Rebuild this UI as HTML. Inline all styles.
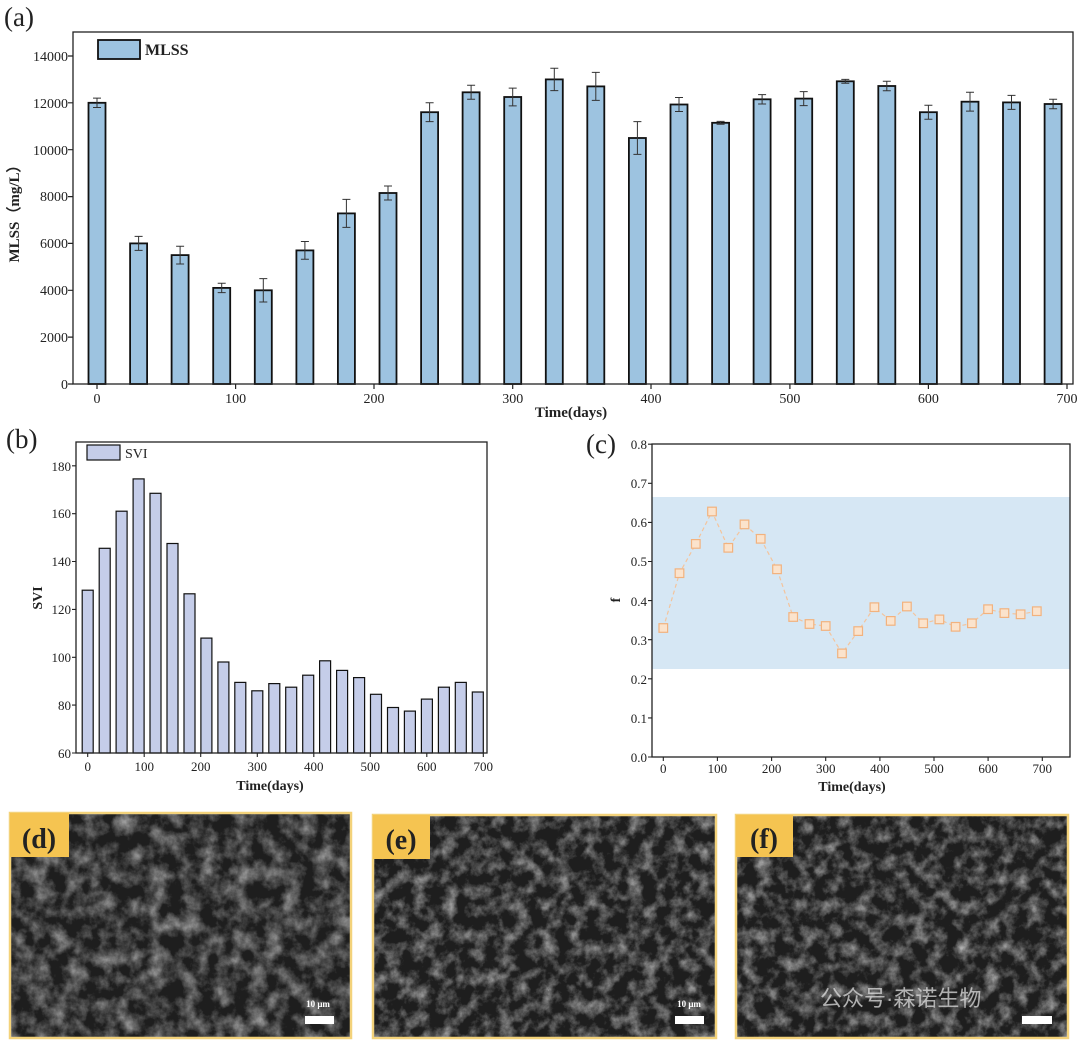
<!DOCTYPE html>
<html><head><meta charset="utf-8"><style>
body{margin:0;background:#fff}
svg{display:block}
text{font-family:"Liberation Serif",serif;fill:#222}
.t{font-size:14px}
.b{font-weight:bold}
</style></head><body>
<svg width="1080" height="1044" viewBox="0 0 1080 1044" xmlns="http://www.w3.org/2000/svg">
<defs>
<filter id="sem" x="0" y="0" width="100%" height="100%">
<feTurbulence type="fractalNoise" baseFrequency="0.06" numOctaves="5" seed="3" result="n"/>
<feColorMatrix in="n" type="matrix" values="0 0 0 0 0  0 0 0 0 0  0 0 0 0 0  1.5 0 0 0 -0.55" result="a"/>
<feFlood flood-color="#b8b8b8" result="w"/>
<feComposite in="w" in2="a" operator="in"/>
</filter>
<filter id="sem2" x="0" y="0" width="100%" height="100%">
<feTurbulence type="fractalNoise" baseFrequency="0.07" numOctaves="5" seed="9" result="n"/>
<feColorMatrix in="n" type="matrix" values="0 0 0 0 0  0 0 0 0 0  0 0 0 0 0  1.6 0 0 0 -0.65" result="a"/>
<feFlood flood-color="#c0c0c0" result="w"/>
<feComposite in="w" in2="a" operator="in"/>
</filter>
</defs>

<!-- (a) -->
<text x="4" y="26" style="font-size:27px">(a)</text>
<g fill="#9dc3e0" stroke="#111" stroke-width="1.8">
<rect x="88.5" y="102.8" width="17" height="281.2"/>
<rect x="130.1" y="243.4" width="17" height="140.6"/>
<rect x="171.6" y="255.1" width="17" height="128.9"/>
<rect x="213.2" y="287.9" width="17" height="96.1"/>
<rect x="254.8" y="290.3" width="17" height="93.7"/>
<rect x="296.4" y="250.4" width="17" height="133.6"/>
<rect x="337.9" y="213.4" width="17" height="170.6"/>
<rect x="379.5" y="193" width="17" height="191"/>
<rect x="421.1" y="112.2" width="17" height="271.8"/>
<rect x="462.6" y="92.3" width="17" height="291.7"/>
<rect x="504.2" y="97" width="17" height="287"/>
<rect x="545.8" y="79.4" width="17" height="304.6"/>
<rect x="587.3" y="86.4" width="17" height="297.6"/>
<rect x="628.9" y="138" width="17" height="246"/>
<rect x="670.5" y="104.5" width="17" height="279.5"/>
<rect x="712.1" y="122.8" width="17" height="261.2"/>
<rect x="753.6" y="99.3" width="17" height="284.7"/>
<rect x="795.2" y="98.6" width="17" height="285.4"/>
<rect x="836.8" y="81.3" width="17" height="302.7"/>
<rect x="878.3" y="86" width="17" height="298"/>
<rect x="919.9" y="112.2" width="17" height="271.8"/>
<rect x="961.5" y="101.7" width="17" height="282.3"/>
<rect x="1003" y="102.4" width="17" height="281.6"/>
<rect x="1044.6" y="104" width="17" height="280"/>
</g>
<g stroke="#333" stroke-width="1" fill="none">
<path d="M97 98.1V107.5M93 98.1H101M93 107.5H101"/>
<path d="M138.6 236.4V250.4M134.6 236.4H142.6M134.6 250.4H142.6"/>
<path d="M180.1 246.2V264M176.1 246.2H184.1M176.1 264H184.1"/>
<path d="M221.7 283.2V292.6M217.7 283.2H225.7M217.7 292.6H225.7"/>
<path d="M263.3 278.6V302M259.3 278.6H267.3M259.3 302H267.3"/>
<path d="M304.9 241.5V259.3M300.9 241.5H308.9M300.9 259.3H308.9"/>
<path d="M346.4 199.4V227.4M342.4 199.4H350.4M342.4 227.4H350.4"/>
<path d="M388 186V200M384 186H392M384 200H392"/>
<path d="M429.6 102.8V121.6M425.6 102.8H433.6M425.6 121.6H433.6"/>
<path d="M471.1 85.3V99.3M467.1 85.3H475.1M467.1 99.3H475.1"/>
<path d="M512.7 88.1V105.9M508.7 88.1H516.7M508.7 105.9H516.7"/>
<path d="M554.3 68.2V90.6M550.3 68.2H558.3M550.3 90.6H558.3"/>
<path d="M595.8 72.4V100.4M591.8 72.4H599.8M591.8 100.4H599.8"/>
<path d="M637.4 121.6V154.4M633.4 121.6H641.4M633.4 154.4H641.4"/>
<path d="M679 97.5V111.5M675 97.5H683M675 111.5H683"/>
<path d="M720.6 121.4V124.2M716.6 121.4H724.6M716.6 124.2H724.6"/>
<path d="M762.1 94.6V104M758.1 94.6H766.1M758.1 104H766.1"/>
<path d="M803.7 91.6V105.6M799.7 91.6H807.7M799.7 105.6H807.7"/>
<path d="M845.3 79.4V83.2M841.3 79.4H849.3M841.3 83.2H849.3"/>
<path d="M886.8 81.3V90.7M882.8 81.3H890.8M882.8 90.7H890.8"/>
<path d="M928.4 105.2V119.2M924.4 105.2H932.4M924.4 119.2H932.4"/>
<path d="M970 92.3V111.1M966 92.3H974M966 111.1H974"/>
<path d="M1011.5 95.4V109.4M1007.5 95.4H1015.5M1007.5 109.4H1015.5"/>
<path d="M1053.1 99.3V108.7M1049.1 99.3H1057.1M1049.1 108.7H1057.1"/>
</g>
<rect x="73" y="32" width="1000" height="352" fill="none" stroke="#222" stroke-width="1.3"/>
<g stroke="#222" stroke-width="1.2">
<path d="M68 384H73M68 337.1H73M68 290.3H73M68 243.4H73M68 196.6H73M68 149.7H73M68 102.8H73M68 56H73"/>
<path d="M97 384V389M235.6 384V389M374 384V389M512.7 384V389M651 384V389M789.9 384V389M928.4 384V389M1067 384V389"/>
</g>
<g class="t" text-anchor="end">
<text x="68" y="389">0</text><text x="68" y="342">2000</text><text x="68" y="295">4000</text>
<text x="68" y="248">6000</text><text x="68" y="201">8000</text><text x="68" y="155">10000</text>
<text x="68" y="108">12000</text><text x="68" y="61">14000</text>
</g>
<g class="t" text-anchor="middle">
<text x="97" y="403">0</text><text x="235.6" y="403">100</text><text x="374" y="403">200</text>
<text x="512.7" y="403">300</text><text x="651" y="403">400</text><text x="789.9" y="403">500</text>
<text x="928.4" y="403">600</text><text x="1067" y="403">700</text>
</g>
<text x="571" y="417" text-anchor="middle" class="b" style="font-size:15px">Time(days)</text>
<text transform="translate(19 210) rotate(-90)" text-anchor="middle" class="b" style="font-size:15px">MLSS（mg/L）</text>
<rect x="98" y="40" width="42" height="19" fill="#9dc3e0" stroke="#111" stroke-width="1.8"/>
<text x="145" y="55" class="b" style="font-size:16px">MLSS</text>

<!-- (b) -->
<text x="6" y="448" style="font-size:27px">(b)</text>
<g fill="#c5cde9" stroke="#111" stroke-width="1.2">
<rect x="82.2" y="590.2" width="11" height="162.8"/>
<rect x="99.2" y="548.3" width="11" height="204.7"/>
<rect x="116.1" y="511.2" width="11" height="241.8"/>
<rect x="133.1" y="478.9" width="11" height="274.1"/>
<rect x="150" y="493.3" width="11" height="259.7"/>
<rect x="167" y="543.5" width="11" height="209.5"/>
<rect x="184" y="593.8" width="11" height="159.2"/>
<rect x="200.9" y="638.1" width="11" height="114.9"/>
<rect x="217.9" y="662" width="11" height="91"/>
<rect x="234.8" y="682.4" width="11" height="70.6"/>
<rect x="251.8" y="690.8" width="11" height="62.2"/>
<rect x="268.8" y="683.6" width="11" height="69.4"/>
<rect x="285.7" y="687.2" width="11" height="65.8"/>
<rect x="302.7" y="675.2" width="11" height="77.8"/>
<rect x="319.6" y="660.8" width="11" height="92.2"/>
<rect x="336.6" y="670.4" width="11" height="82.6"/>
<rect x="353.6" y="677.6" width="11" height="75.4"/>
<rect x="370.5" y="694.3" width="11" height="58.7"/>
<rect x="387.5" y="707.5" width="11" height="45.5"/>
<rect x="404.4" y="711.1" width="11" height="41.9"/>
<rect x="421.4" y="699.1" width="11" height="53.9"/>
<rect x="438.4" y="687.2" width="11" height="65.8"/>
<rect x="455.3" y="682.4" width="11" height="70.6"/>
<rect x="472.3" y="692" width="11" height="61"/>
</g>
<rect x="76" y="442" width="411" height="311" fill="none" stroke="#222" stroke-width="1.3"/>
<g stroke="#222" stroke-width="1.1">
<path d="M72 753H76M72 705.1H76M72 657.3H76M72 609.4H76M72 561.5H76M72 513.7H76M72 465.8H76"/>
<path d="M87.7 753V757M144.2 753V757M200.7 753V757M257.3 753V757M313.8 753V757M370.3 753V757M426.8 753V757M483.3 753V757"/>
</g>
<g class="t" text-anchor="end" style="font-size:13px">
<text x="71" y="758">60</text><text x="71" y="710">80</text><text x="71" y="662">100</text>
<text x="71" y="614">120</text><text x="71" y="566">140</text><text x="71" y="518">160</text><text x="71" y="471">180</text>
</g>
<g class="t" text-anchor="middle" style="font-size:13px">
<text x="87.7" y="771">0</text><text x="144.2" y="771">100</text><text x="200.7" y="771">200</text>
<text x="257.3" y="771">300</text><text x="313.8" y="771">400</text><text x="370.3" y="771">500</text>
<text x="426.8" y="771">600</text><text x="483.3" y="771">700</text>
</g>
<text x="270" y="790" text-anchor="middle" class="b" style="font-size:14px">Time(days)</text>
<text transform="translate(42 598) rotate(-90)" text-anchor="middle" class="b" style="font-size:14px">SVI</text>
<rect x="87" y="445" width="33" height="15" fill="#c5cde9" stroke="#111" stroke-width="1.2"/>
<text x="125" y="458" style="font-size:14px">SVI</text>

<!-- (c) -->
<text x="586" y="453" style="font-size:27px">(c)</text>
<rect x="652" y="497" width="418" height="172" fill="#d6e7f4"/>
<polyline fill="none" stroke="#f4c49c" stroke-width="1.2" stroke-dasharray="4 3" points="663.3,628 679.5,573.2 695.8,543.9 712,511.5 728.3,547.8 744.5,524.4 760.7,538.8 777,569.3 793.2,617 809.5,624 825.7,626 842,653.4 858.2,631.1 874.4,607.2 890.7,620.9 906.9,606.5 923.2,623.3 939.4,619.4 955.6,626.8 971.9,623.3 988.1,609.2 1004.4,613.1 1020.6,614.3 1036.8,611.2"/>
<g fill="#fbe3cc" stroke="#f2b27e" stroke-width="1.2">
<rect x="659" y="623.7" width="8.6" height="8.6"/><rect x="675.2" y="568.9" width="8.6" height="8.6"/>
<rect x="691.5" y="539.6" width="8.6" height="8.6"/><rect x="707.7" y="507.2" width="8.6" height="8.6"/>
<rect x="724" y="543.5" width="8.6" height="8.6"/><rect x="740.2" y="520.1" width="8.6" height="8.6"/>
<rect x="756.4" y="534.5" width="8.6" height="8.6"/><rect x="772.7" y="565" width="8.6" height="8.6"/>
<rect x="788.9" y="612.7" width="8.6" height="8.6"/><rect x="805.2" y="619.7" width="8.6" height="8.6"/>
<rect x="821.4" y="621.7" width="8.6" height="8.6"/><rect x="837.7" y="649.1" width="8.6" height="8.6"/>
<rect x="853.9" y="626.8" width="8.6" height="8.6"/><rect x="870.1" y="602.9" width="8.6" height="8.6"/>
<rect x="886.4" y="616.6" width="8.6" height="8.6"/><rect x="902.6" y="602.2" width="8.6" height="8.6"/>
<rect x="918.9" y="619" width="8.6" height="8.6"/><rect x="935.1" y="615.1" width="8.6" height="8.6"/>
<rect x="951.3" y="622.5" width="8.6" height="8.6"/><rect x="967.6" y="619" width="8.6" height="8.6"/>
<rect x="983.8" y="604.9" width="8.6" height="8.6"/><rect x="1000.1" y="608.8" width="8.6" height="8.6"/>
<rect x="1016.3" y="610" width="8.6" height="8.6"/><rect x="1032.5" y="606.9" width="8.6" height="8.6"/>
</g>
<rect x="652" y="444" width="418" height="313" fill="none" stroke="#222" stroke-width="1.3"/>
<g stroke="#222" stroke-width="1.1">
<path d="M648 757H652M648 717.9H652M648 678.8H652M648 639.7H652M648 600.6H652M648 561.5H652M648 522.4H652M648 483.3H652M648 444.2H652"/>
<path d="M663.3 757V761M717.4 757V761M771.6 757V761M825.7 757V761M879.9 757V761M934 757V761M988.1 757V761M1042.3 757V761"/>
</g>
<g class="t" text-anchor="end" style="font-size:13px">
<text x="647" y="762">0.0</text><text x="647" y="723">0.1</text><text x="647" y="684">0.2</text>
<text x="647" y="645">0.3</text><text x="647" y="606">0.4</text><text x="647" y="566">0.5</text>
<text x="647" y="527">0.6</text><text x="647" y="488">0.7</text><text x="647" y="449">0.8</text>
</g>
<g class="t" text-anchor="middle" style="font-size:13px">
<text x="663.3" y="773">0</text><text x="717.4" y="773">100</text><text x="771.6" y="773">200</text>
<text x="825.7" y="773">300</text><text x="879.9" y="773">400</text><text x="934" y="773">500</text>
<text x="988.1" y="773">600</text><text x="1042.3" y="773">700</text>
</g>
<text x="852" y="791" text-anchor="middle" class="b" style="font-size:14px">Time(days)</text>
<text transform="translate(620 600) rotate(-90)" text-anchor="middle" class="b" style="font-size:14px">f</text>

<!-- SEM panels -->
<g>
<rect x="10" y="813" width="341" height="225" fill="#1e1e1e" stroke="#f3d27a" stroke-width="2.5"/>
<rect x="11" y="814" width="339" height="223" filter="url(#sem)"/>
<rect x="10" y="813" width="59" height="44" fill="#f5c451"/>
<text x="39" y="848" text-anchor="middle" class="b" style="font-size:28px">(d)</text>
<text x="318" y="1007" text-anchor="middle" style="font-size:9px;fill:#fff" class="b">10 μm</text>
<rect x="305" y="1016" width="29" height="8" fill="#fff"/>

<rect x="373" y="815" width="343" height="223" fill="#1e1e1e" stroke="#f3d27a" stroke-width="2.5"/>
<rect x="374" y="816" width="341" height="221" filter="url(#sem2)"/>
<rect x="373" y="815" width="57" height="44" fill="#f5c451"/>
<text x="401" y="849" text-anchor="middle" class="b" style="font-size:28px">(e)</text>
<text x="689" y="1007" text-anchor="middle" style="font-size:9px;fill:#fff" class="b">10 μm</text>
<rect x="675" y="1016" width="29" height="8" fill="#fff"/>

<rect x="736" y="815" width="332" height="223" fill="#1e1e1e" stroke="#f3d27a" stroke-width="2.5"/>
<rect x="737" y="816" width="330" height="221" filter="url(#sem2)"/>
<rect x="736" y="815" width="57" height="42" fill="#f5c451"/>
<text x="764" y="848" text-anchor="middle" class="b" style="font-size:28px">(f)</text>
<text x="820" y="1006" style="font-size:22px;fill:#ddd;opacity:0.75;font-family:'Liberation Sans','Noto Sans CJK SC',sans-serif">公众号·森诺生物</text>
<rect x="1022" y="1016" width="30" height="8" fill="#fff"/>
</g>
</svg>
</body></html>
